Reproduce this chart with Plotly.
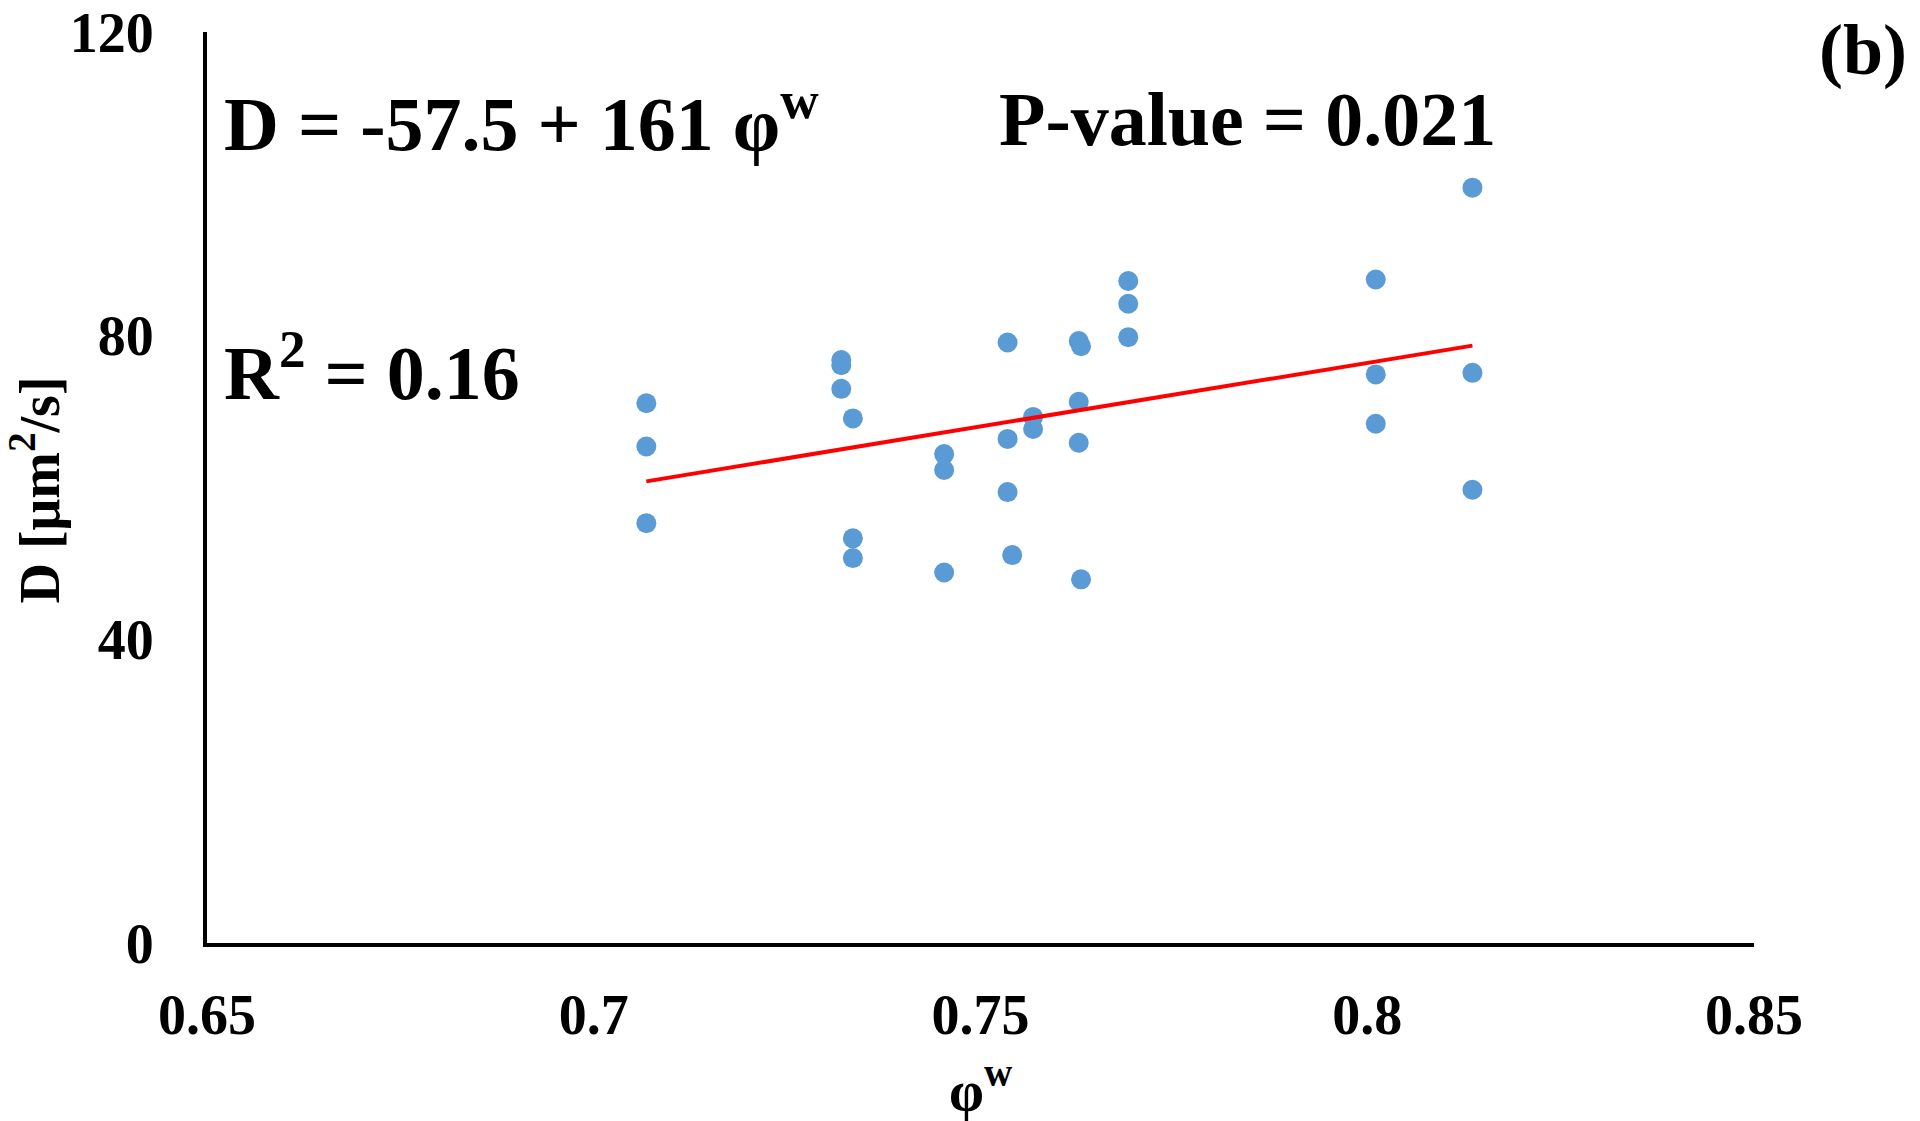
import numpy as np
import plotly.graph_objects as go

# Data
phi_w = [0.7068, 0.7068, 0.7068,
         0.7320, 0.7320, 0.7320,
         0.7335, 0.7335, 0.7335,
         0.7453, 0.7453, 0.7453,
         0.7535, 0.7535, 0.7535,
         0.7541,
         0.7568, 0.7568,
         0.7627, 0.7630, 0.7627, 0.7627, 0.7630,
         0.7691, 0.7691, 0.7691,
         0.8011, 0.8011, 0.8011,
         0.8136, 0.8136, 0.8136]
D_vals = [71.1, 65.4, 55.3,
          76.8, 76.1, 73.0,
          69.1, 53.3, 50.7,
          64.4, 62.3, 48.8,
          79.1, 66.4, 59.4,
          51.1,
          69.3, 67.7,
          79.3, 78.6, 71.3, 65.9, 47.9,
          87.2, 84.2, 79.8,
          87.4, 74.9, 68.4,
          99.5, 75.1, 59.7]

x_ticks = [0.65, 0.7, 0.75, 0.8, 0.85]
x_ticklabels = ["0.65", "0.7", "0.75", "0.8", "0.85"]
y_ticks = [0, 40, 80, 120]

eq_text = "D = -57.5 + 161 φ<sup>w</sup>"
p_text = "P-value = 0.021"
r2_text = "R<sup>2</sup> = 0.16"
panel_text = "(b)"

# Linear trendline computed from the data
slope, intercept = np.polyfit(phi_w, D_vals, 1)
x_fit = np.array([min(phi_w), max(phi_w)])
y_fit = intercept + slope * x_fit

FONT = "Liberation Serif"

fig = go.Figure()
fig.add_trace(go.Scatter(x=phi_w, y=D_vals, mode="markers",
                         marker=dict(size=20, color="#5B9BD5"),
                         showlegend=False, cliponaxis=False))
fig.add_trace(go.Scatter(x=x_fit, y=y_fit, mode="lines",
                         line=dict(color="#FF0000", width=4),
                         showlegend=False))

# page body has an 8px default margin; compensate in the figure margins
fig.update_layout(
    width=1920, height=1121,
    margin=dict(l=199, r=174, t=24, b=186, autoexpand=False),
    paper_bgcolor="white", plot_bgcolor="white",
    font=dict(family=FONT, color="black"),
)
fig.update_xaxes(range=[0.65, 0.85], tickvals=x_ticks, ticktext=x_ticklabels,
                 showgrid=False, zeroline=False, automargin=False,
                 showline=True, linecolor="black", linewidth=4,
                 ticks="", ticklabelstandoff=20, ticklabeloverflow="allow",
                 tickfont=dict(family=FONT, size=56, weight="bold", color="black"))
fig.update_yaxes(range=[0, 120], tickvals=y_ticks,
                 showgrid=False, zeroline=False, automargin=False,
                 showline=True, linecolor="black", linewidth=4,
                 ticks="", ticklabelstandoff=38, ticklabeloverflow="allow",
                 tickfont=dict(family=FONT, size=56, weight="bold", color="black"))

ann_font = dict(family=FONT, size=76, weight="bold", color="black")
fig.add_annotation(x=0.6520, y=108.6, xref="x", yref="y", text=eq_text,
                   showarrow=False, xanchor="left", yanchor="middle", font=ann_font)
fig.add_annotation(x=0.7521, y=108.6, xref="x", yref="y", text=p_text,
                   showarrow=False, xanchor="left", yanchor="middle", font=ann_font)
fig.add_annotation(x=0.6520, y=75.8, xref="x", yref="y", text=r2_text,
                   showarrow=False, xanchor="left", yanchor="middle", font=ann_font)
fig.add_annotation(x=1.100, y=0.980, xref="paper", yref="paper", text=panel_text,
                   showarrow=False, xanchor="right", yanchor="middle",
                   font=dict(family=FONT, size=72, weight="bold", color="black"))
# axis titles
fig.add_annotation(x=-0.111, y=0.497, xref="paper", yref="paper",
                   text="D [μm<sup>2</sup>/s]", textangle=-90,
                   showarrow=False, xanchor="center", yanchor="middle",
                   font=dict(family=FONT, size=56, weight="bold", color="black"))
fig.add_annotation(x=0.5, y=-0.157, xref="paper", yref="paper",
                   text="φ<sup>w</sup>",
                   showarrow=False, xanchor="center", yanchor="middle",
                   font=dict(family=FONT, size=56, weight="bold", color="black"))

fig.write_html("out.html")
